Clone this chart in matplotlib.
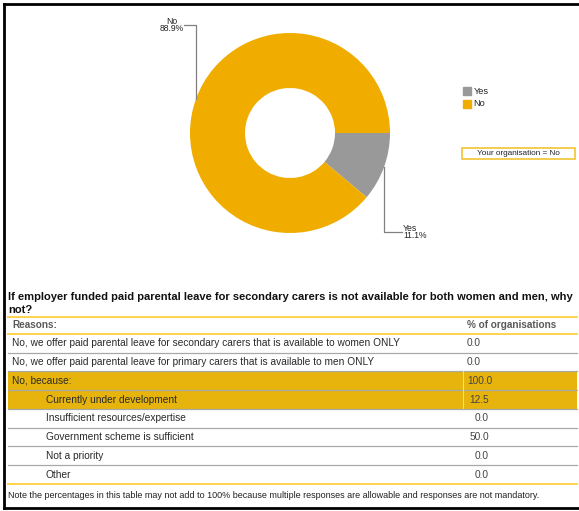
import matplotlib.pyplot as plt
import numpy as np

plt.rcParams['font.family'] = ['Liberation Sans', 'DejaVu Sans']

# donut data
answers = ['Yes', 'No']
shares = [11.1, 88.9]
donut_colors = ['#999999', '#F0AD00']
your_answer = 'No'

# table data
question = ('If employer funded paid parental leave for secondary carers is not available for both women and men, why\n'
            'not?')
reasons = ['No, we offer paid parental leave for secondary carers that is available to women ONLY',
           'No, we offer paid parental leave for primary carers that is available to men ONLY',
           'No, because:',
           'Currently under development',
           'Insufficient resources/expertise',
           'Government scheme is sufficient',
           'Not a priority',
           'Other']
pct_orgs = [0.0, 0.0, 100.0, 12.5, 0.0, 50.0, 0.0, 0.0]
is_sub = [False, False, False, True, True, True, True, True]
highlight = [False, False, True, True, False, False, False, False]
note = ('Note the percentages in this table may not add to 100% because multiple responses are allowable '
        'and responses are not mandatory.')

W, H = 579, 511
fig = plt.figure(figsize=(W / 100, H / 100), dpi=100)

# overlay axes in pixel units for table, frame and legend
ax = fig.add_axes([0, 0, 1, 1])
ax.set_xlim(0, W)
ax.set_ylim(H, 0)
ax.axis('off')

# donut
cx, cy, r = 290, 133, 100
dax = fig.add_axes([(cx - r) / W, 1 - (cy + r) / H, 2 * r / W, 2 * r / H])
wedges, _ = dax.pie(shares, colors=donut_colors, startangle=0, counterclock=False,
                    radius=1, wedgeprops=dict(width=0.55, edgecolor='none'))
dax.set_xlim(-1, 1)
dax.set_ylim(-1, 1)

# leader lines and labels
label_y = {'Yes': -0.99, 'No': 1.08}
for w, name, val in zip(wedges, answers, shares):
    mid = np.deg2rad((w.theta1 + w.theta2) / 2)
    x0, y0 = 1.0 * np.cos(mid), 1.0 * np.sin(mid)
    ly = label_y[name]
    if x0 > 0:
        x1 = x0 + 0.18
        dax.plot([x0, x0, x1], [y0, ly, ly], color='#808080', lw=0.9, clip_on=False)
        dax.text(x1 + 0.01, ly, f'{name}\n{val:.1f}%', ha='left', va='center',
                 fontsize=6.2, color='#222222', linespacing=0.85)
    else:
        x1 = x0 - 0.12
        dax.plot([x0, x0, x1], [y0, ly, ly], color='#808080', lw=0.9, clip_on=False)
        dax.text(x1, ly, f'{name}\n{val:.1f}%', ha='right', va='center',
                 fontsize=6.2, color='#222222', linespacing=0.85, multialignment='center')

# legend
for i, (name, col) in enumerate(zip(answers, donut_colors)):
    y = 91 + i * 13
    ax.add_patch(plt.Rectangle((463, y - 4), 8, 8, color=col))
    ax.text(473.5, y, name, ha='left', va='center', fontsize=6.6, color='#222222')

ax.add_patch(plt.Rectangle((462, 148), 113, 11, facecolor='white', edgecolor='#F2C530', lw=1.2))
ax.text(518.5, 153.5, f'Your organisation = {your_answer}', ha='center', va='center',
        fontsize=5.9, color='#222222')

# table
left, right, col_x = 8, 577, 463
yellow = '#FFD34D'
ax.text(left, 303.5, question, ha='left', va='center', fontsize=8.0, fontweight='bold',
        color='#111111', linespacing=1.3)
ax.plot([left, right], [317, 317], color=yellow, lw=1.4)
ax.text(12, 325.5, 'Reasons:', ha='left', va='center', fontsize=7.2, fontweight='bold', color='#5a5a5a')
ax.text(467, 325.5, '% of organisations', ha='left', va='center', fontsize=7.2,
        fontweight='bold', color='#5a5a5a')
ax.plot([left, right], [334, 334], color=yellow, lw=1.4)

row_h = 18.75
top = 334
for i, (txt, v, sub, hl) in enumerate(zip(reasons, pct_orgs, is_sub, highlight)):
    y0 = top + i * row_h
    yc = y0 + row_h / 2
    if hl:
        ax.add_patch(plt.Rectangle((left, y0), right - left, row_h, facecolor='#E6B40C',
                                   edgecolor='none'))
        ax.plot([col_x, col_x], [y0, y0 + row_h], color='#F5DE8A', lw=0.8)
    tx = 46 if sub else 12
    ax.text(tx, yc, txt, ha='left', va='center', fontsize=7.3, color='#2a2a2a')
    if sub:
        ax.text(489, yc, f'{v:.1f}', ha='right', va='center', fontsize=7.3, color='#444444')
    else:
        ax.text(467, yc, f'{v:.1f}', ha='left', va='center', fontsize=7.3, color='#444444')
    if i < len(reasons) - 1:
        ax.plot([left, right], [y0 + row_h, y0 + row_h], color='#A8A8A8', lw=0.9)

ax.plot([left, right], [top + len(reasons) * row_h] * 2, color=yellow, lw=1.4)
ax.text(left, 496, note, ha='left', va='center', fontsize=6.5, color='#222222')

# outer frame
ax.plot([4, W], [4, 4], color='black', lw=2.0)
ax.plot([4, 4], [4, 508], color='black', lw=2.0)
ax.plot([4, W], [508, 508], color='black', lw=2.0)

fig.savefig('out.png', dpi=100)
